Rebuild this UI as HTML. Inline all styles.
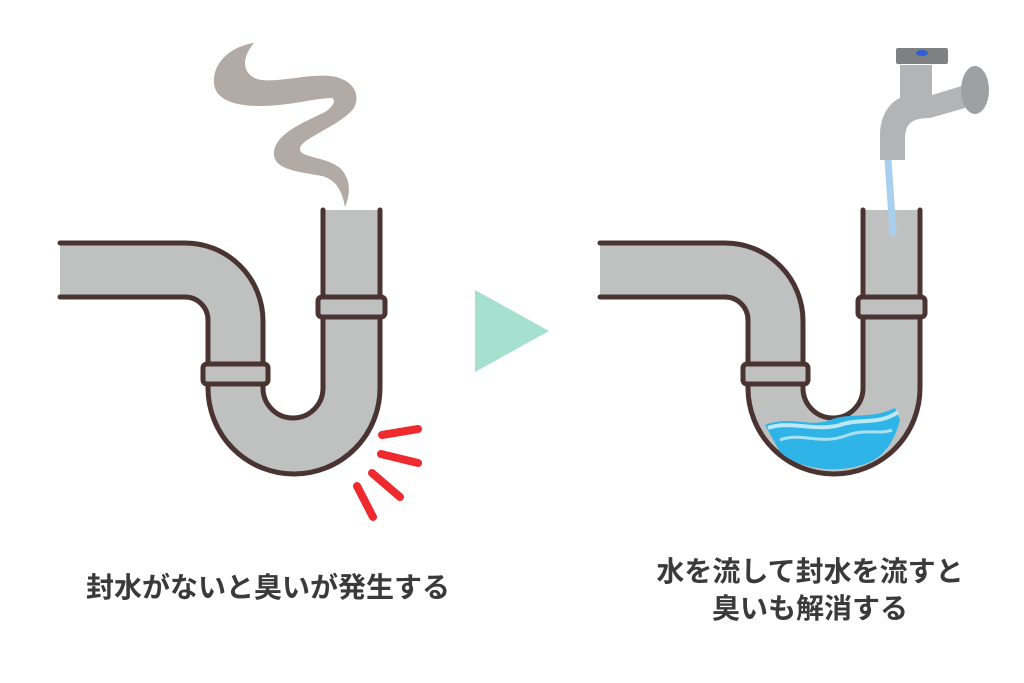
<!DOCTYPE html>
<html><head><meta charset="utf-8"><style>
html,body{margin:0;padding:0;background:#fff;}
body{width:1024px;height:683px;overflow:hidden;position:relative;}
.t{position:absolute;font-family:"Liberation Sans","Noto Sans CJK JP",sans-serif;font-weight:bold;color:#3a3a3a;font-size:28px;white-space:nowrap;text-align:center;line-height:37px;}
</style></head><body>
<svg width="1024" height="683" style="position:absolute;left:0;top:0">
<defs>
<g id="pipe">
  <path d="M60,243 H185 A78,78 0 0 1 263,321 V388 A30,30 0 0 0 323,388 V210 H380 V388 A85,85 0 0 1 208,388 V320 A23,23 0 0 0 185,297 H60 Z" fill="#bfc1c1"/>
  <path d="M60,243 H185 A78,78 0 0 1 263,321 V388 A30,30 0 0 0 323,388 V210 M380,210 V388 A86,86 0 0 1 208,388 V320 A23,23 0 0 0 185,297 H60" fill="none" stroke="#4a3432" stroke-width="5" stroke-linecap="round"/>
  <rect x="203" y="364" width="65" height="20" rx="4" fill="#bfc1c1" stroke="#4a3432" stroke-width="5"/>
  <rect x="318" y="297" width="67" height="20" rx="4" fill="#bfc1c1" stroke="#4a3432" stroke-width="5"/>
</g>
</defs>
<use href="#pipe"/>
<use href="#pipe" x="540"/>
<!-- smoke -->
<path d="M254,43 C232,46 212,62 214,84 C216,100 235,106 260,106 C290,106 315,98 332,98 C336,100 334,106 325,112 C300,124 276,134 274,152 C272,170 300,172 322,176 C338,180 343,195 345,207 C350,195 352,180 340,168 C325,156 298,158 300,148 C302,138 340,126 354,108 C362,92 350,78 330,76 C305,74 285,82 262,80 C245,78 238,62 254,43 Z" fill="#b2aaa5"/>
<!-- red lines -->
<g stroke="#ee2a2f" stroke-width="8" stroke-linecap="round">
<line x1="382" y1="435" x2="418" y2="429"/>
<line x1="381" y1="454" x2="418" y2="463"/>
<line x1="372" y1="473" x2="400" y2="497"/>
<line x1="357" y1="486" x2="373" y2="517"/>
</g>
<!-- arrow -->
<polygon points="475,290 475,372 549,331" fill="#a6e0cf"/>
<!-- water in U -->
<g>
<path d="M765,425 C790,415 810,428 830,420 C850,412 870,420 895,408 L900,420 C895,440 885,455 870,462 C840,475 800,470 780,452 Z" fill="#2fb4e8"/>
<path d="M768,428 C790,420 815,432 840,425 C860,418 880,425 898,412" fill="none" stroke="#bfe8f7" stroke-width="4"/>
<path d="M780,440 C800,432 820,445 845,436 C865,428 880,435 892,430" fill="none" stroke="#a8e0f5" stroke-width="3"/>
</g>
<!-- faucet -->
<line x1="888" y1="160" x2="893" y2="233" stroke="#a8cfee" stroke-width="7" stroke-linecap="round"/>
<path d="M900,65 H932 V95 L965,85 V108 L930,118 C910,118 905,125 905,140 V160 H880 V135 C880,110 895,100 900,98 Z" fill="#b3b4b5"/>
<ellipse cx="975" cy="90" rx="14" ry="24" fill="#9fa0a1"/>
<rect x="896" y="48" width="52" height="16" rx="2" fill="#7f8081"/>
<ellipse cx="922" cy="53" rx="6" ry="3" fill="#2e5fd6"/>
</svg>
<div class="t" style="left:60px;top:569px;width:416px;">封水がないと臭いが発生する</div>
<div class="t" style="left:600px;top:553px;width:420px;">水を流して封水を流すと<br>臭いも解消する</div>
</body></html>
